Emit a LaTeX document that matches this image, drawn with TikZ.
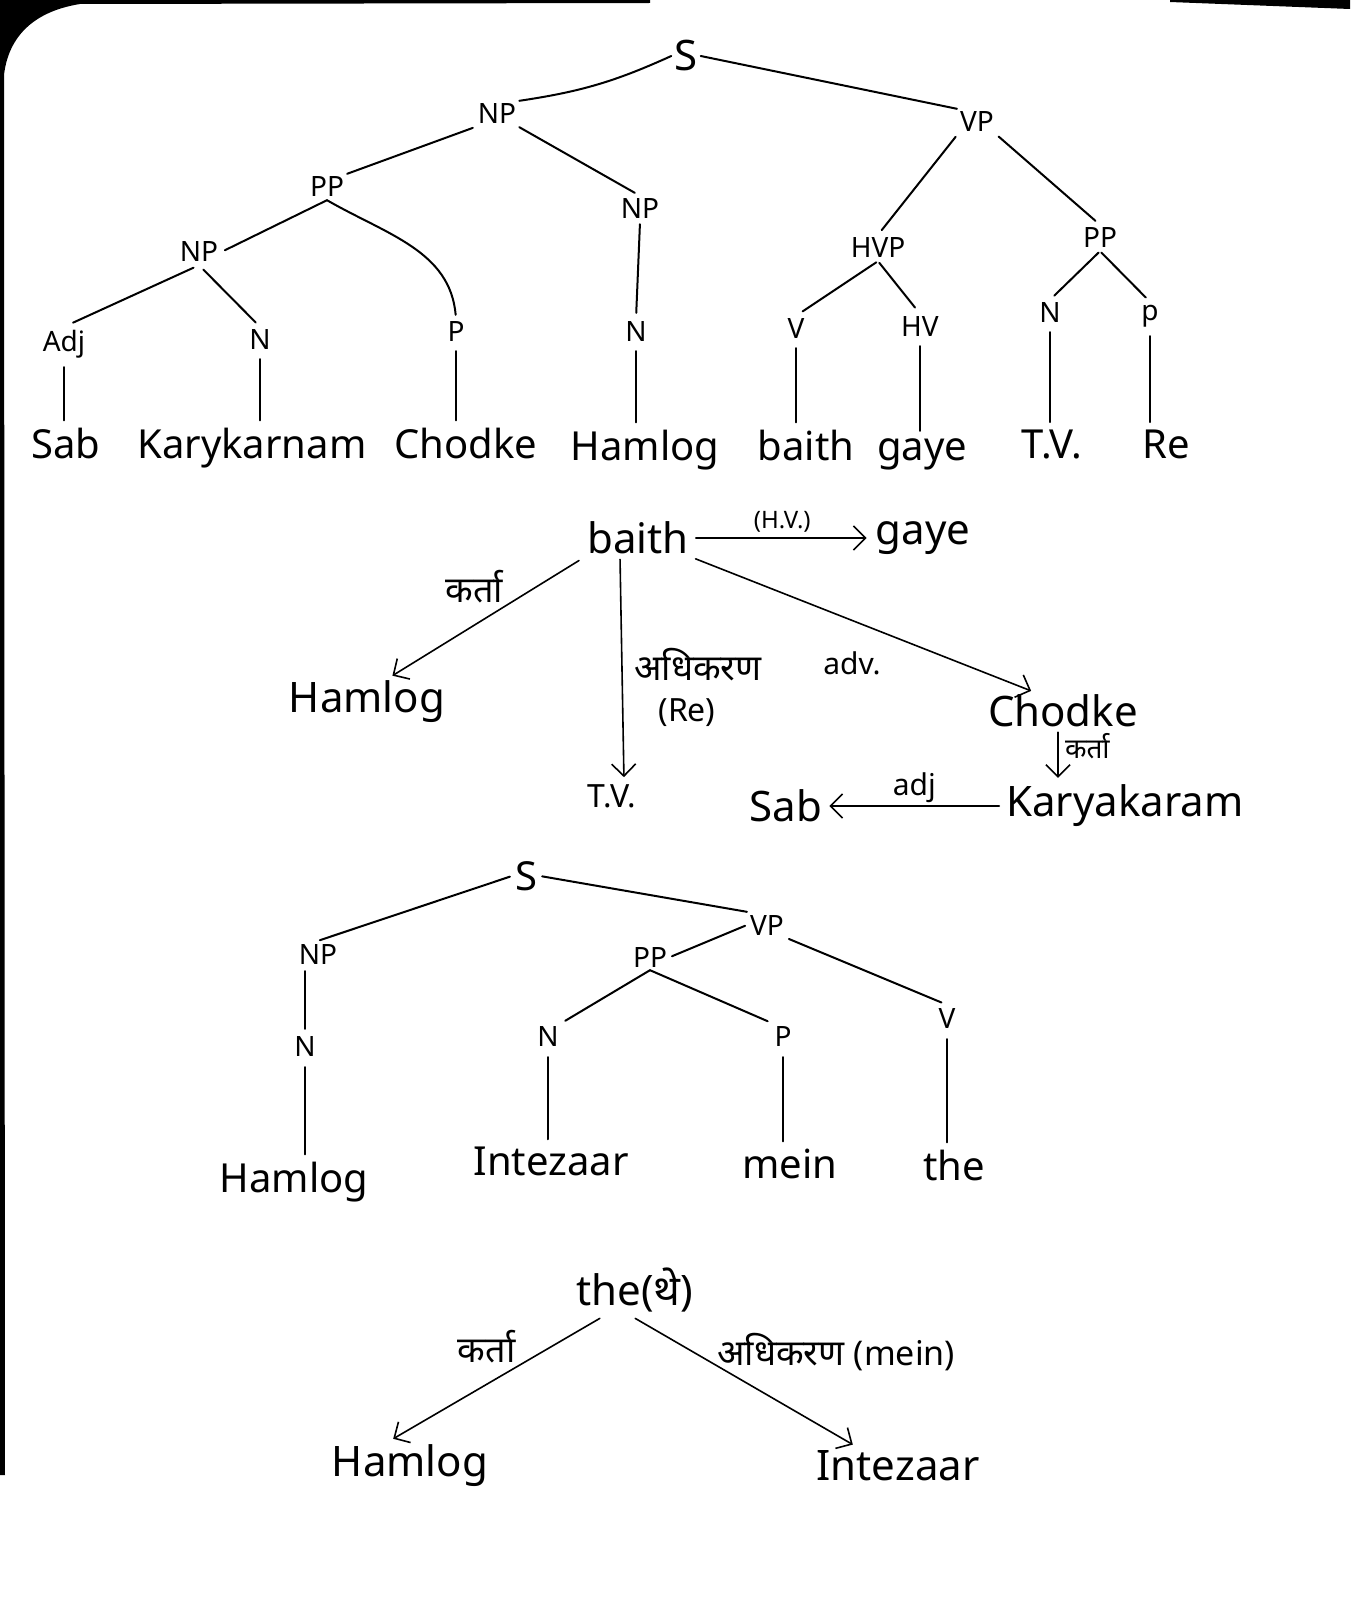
\documentclass[tikz,border=0pt]{standalone}
\usepackage{fontspec}
\setmainfont{Noto Sans}
\newfontfamily\deva[Script=Devanagari]{Noto Sans}
\usetikzlibrary{arrows.meta}
\begin{document}
\begin{tikzpicture}[x=1pt,y=-1pt,
 lab/.style={font=\fontsize{28}{32}\selectfont, inner sep=3pt},
 wd/.style={font=\fontsize{40}{46}\selectfont, inner sep=3pt, anchor=base},
 dw/.style={font=\fontsize{42}{48}\selectfont, inner sep=3pt},
 rel/.style={font=\fontsize{24}{28}\selectfont, inner sep=2pt},
 drel/.style={font=\fontsize{36}{40}\selectfont\deva, inner sep=2pt},
 edge/.style={line width=2pt, line cap=round},
 arr/.style={line width=1.6pt, line cap=round, -{Straight Barb[length=12pt,width=24pt,line width=1.6pt]}},
]
\useasboundingbox[fill=white] (0,0) rectangle (1350,1600);
% scan border
\fill[black] (0,0) -- (650,0) -- (650,3) -- (80,4) .. controls (30,12) and (8,40) .. (4,75) -- (5,1475) -- (0,1475) -- cycle;
\fill[black] (1170,0) -- (1350,0) -- (1350,9) -- (1170,2) -- cycle;

% ---------- top tree ----------
\node[lab, font=\fontsize{42}{46}\selectfont] (S) at (686,56) {S};
\node[lab] (NPt) at (497,114) {NP};
\node[lab] (VPt) at (977,122) {VP};
\node[lab] (PPa) at (327,187) {PP};
\node[lab] (NPb) at (640,209) {NP};
\node[lab] (NPa) at (199,252) {NP};
\node[lab] (HVP) at (878,248) {HVP};
\node[lab] (PPb) at (1100,238) {PP};
\node[lab] (Adj) at (64,344) {Adj};
\node[lab] (Na) at (260,340) {N};
\node[lab] (Pa) at (456,332) {P};
\node[lab] (Nb) at (636,332) {N};
\node[lab] (Va) at (796,329) {V};
\node[lab] (HV) at (920,327) {HV};
\node[lab] (Nc) at (1050,313) {N};
\node[lab] (Pb) at (1150,316) {p};

\node[wd] (Sab) at (66,458) {Sab};
\node[wd] (Kary) at (252,458) {Karykarnam};
\node[wd] (Chodke) at (466,458) {Chodke};
\node[wd] (Hamlog) at (645,460) {Hamlog};
\node[wd] (baith) at (806,460) {baith};
\node[wd] (gaye) at (922,460) {gaye};
\node[wd] (TV) at (1052,458) {T.V.};
\node[wd] (Re) at (1166,458) {Re};

\draw[edge] (NPt.north east) to[bend right=8] (S.west);
\draw[edge] (S.east) -- (VPt.north west);
\draw[edge, shorten <=2pt] (NPt.south west) -- (PPa.north east);
\draw[edge, shorten >=6pt] (NPt.south east) -- (NPb.north);
\draw[edge, shorten >=4pt] (PPa.south) -- (NPa.east);
\draw[edge, shorten >=4pt] (PPa.south) to[out=-30,in=95] (Pa.north);
\draw[edge, shorten <=6pt, shorten >=10pt] (NPa.south) -- (Adj.north);
\draw[edge, shorten <=6pt, shorten >=6pt] (NPa.south) -- (Na.north);
\draw[edge, shorten <=2pt, shorten >=6pt] (NPb.south) -- (Nb.north);
\draw[edge, shorten <=2pt, shorten >=6pt] (VPt.south west) -- (HVP.north);
\draw[edge, shorten <=2pt, shorten >=6pt] (VPt.south east) -- (PPb.north);
\draw[edge, shorten <=2pt, shorten >=8pt] (HVP.south) -- (Va.north);
\draw[edge, shorten <=2pt, shorten >=8pt] (HVP.south) -- (HV.north);
\draw[edge, shorten <=2pt, shorten >=6pt] (PPb.south) -- (Nc.north);
\draw[edge, shorten <=2pt, shorten >=6pt] (PPb.south) -- (Pb.north);
\foreach \l/\w in {Adj/Sab, Na/Kary, Pa/Chodke, Nb/Hamlog, Va/baith, HV/gaye, Nc/TV, Pb/Re}
  \draw[edge, shorten <=6pt, shorten >=4pt] (\l.south) -- (\l.south |- \w.north);

% ---------- dependency graph 1 ----------
\node[dw] (baith1) at (638,538) {baith};
\node[dw] (gaye1) at (923,538) {gaye};
\node[dw] (Hamlog1) at (367,702) {Hamlog};
\node[wd, anchor=center, font=\fontsize{32}{36}\selectfont] (TV1) at (612,796) {T.V.};
\node[dw] (Chodke1) at (1063,711) {Chodke};
\node[dw] (Karya1) at (1125,806) {Karyakaram};
\node[dw] (Sab1) at (786,806) {Sab};

\draw[arr, shorten <=4pt, shorten >=6pt] (baith1.east) -- node[rel, above=3pt] (hvl) {(H.V.)} (gaye1.west);
\draw[arr, shorten <=6pt, shorten >=4pt] (baith1.south west) -- node[drel, above left=0pt, pos=0.4] (k1) {कर्ता} ([xshift=22pt]Hamlog1.north);
\draw[arr, shorten <=2pt, shorten >=4pt] ([xshift=-18pt]baith1.south) -- ([xshift=12pt]TV1.north);
\node[drel, anchor=west] (adh1) at (632,665) {अधिकरण};
\node[rel, font=\fontsize{32}{36}\selectfont] (re1) at (687,713) {(Re)};
\node[rel, font=\fontsize{30}{34}\selectfont] (adv1) at (852,663) {adv.};
\draw[arr, shorten <=4pt, shorten >=2pt] (baith1.south east) -- ([xshift=-30pt]Chodke1.north);
\draw[arr, line width=2pt, shorten <=2pt, shorten >=4pt] ([xshift=-5pt]Chodke1.south) -- node[drel, right=4pt, pos=0.3, font=\fontsize{28}{32}\selectfont\deva] (k2) {कर्ता} ([xshift=-5pt]Chodke1.south |- Karya1.north);
\draw[arr, line width=2pt, shorten <=4pt, shorten >=4pt] (Karya1.west) -- node[rel, above=0pt, font=\fontsize{30}{34}\selectfont] (adjl) {adj} (Sab1.east);

% ---------- tree 2 ----------
\node[lab, font=\fontsize{40}{44}\selectfont] (S2) at (526,876) {S};
\node[lab] (NP2) at (318,954) {NP};
\node[lab] (VP2) at (767,925) {VP};
\node[lab] (PP2) at (650,957) {PP};
\node[lab] (N2a) at (305,1046) {N};
\node[lab] (N2b) at (548,1036) {N};
\node[lab] (P2) at (783,1036) {P};
\node[lab] (V2) at (947,1018) {V};
\node[wd] (Hamlog2) at (294,1192) {Hamlog};
\node[wd] (Intezaar) at (551,1175) {Intezaar};
\node[wd] (mein) at (790,1178) {mein};
\node[wd] (the) at (954,1180) {the};

\draw[edge, shorten <=2pt, shorten >=2pt] (S2.west) -- (NP2.north);
\draw[edge, shorten <=2pt] (S2.east) -- (VP2.north west);
\draw[edge, shorten <=2pt, shorten >=2pt] (VP2.west) -- (PP2.east);
\draw[edge, shorten <=2pt, shorten >=6pt] (VP2.south east) -- (V2.north);
\draw[edge, shorten >=4pt] (PP2.south) -- (N2b.north east);
\draw[edge, shorten >=4pt] (PP2.south) -- (P2.north west);
\draw[edge, shorten <=4pt, shorten >=4pt] (NP2.south -| N2a) -- (N2a.north);
\foreach \l/\w in {N2a/Hamlog2, N2b/Intezaar, P2/mein, V2/the}
  \draw[edge, shorten <=8pt, shorten >=4pt] (\l.south) -- (\l.south |- \w.north);

% ---------- dependency graph 2 ----------
\node[dw] (the2) at (635,1290) {the({\deva थे})};
\node[dw] (Hamlog3) at (410,1466) {Hamlog};
\node[dw] (Intezaar2) at (898,1466) {Intezaar};
\draw[arr, shorten <=6pt, shorten >=6pt] ([xshift=-30pt]the2.south) -- node[drel, above left=0pt, pos=0.4] (k3) {कर्ता} ([xshift=-22pt]Hamlog3.north);
\draw[arr, shorten <=6pt, shorten >=6pt] ([xshift=-5pt]the2.south) -- ([xshift=-40pt]Intezaar2.north);
\node[drel, anchor=west] (adh2) at (715,1352) {अधिकरण \rmfamily\fontsize{34}{38}\selectfont(mein)};
\end{tikzpicture}
\end{document}
